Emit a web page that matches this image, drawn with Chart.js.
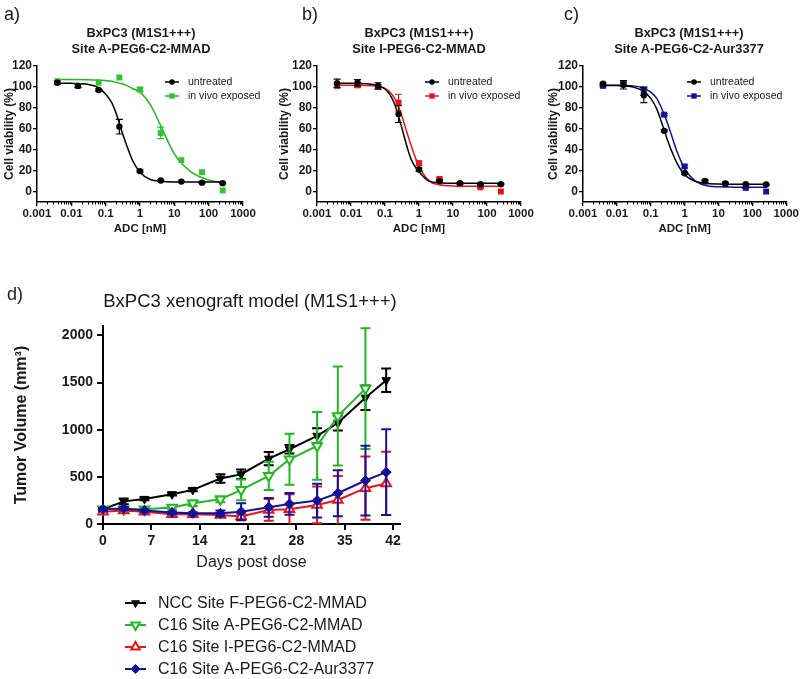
<!DOCTYPE html>
<html>
<head>
<meta charset="utf-8">
<script src="https://cdn.jsdelivr.net/npm/chart.js"></script>
<style>
  body { margin: 0; background: #fff; }
  #page { position: relative; width: 800px; height: 679px; overflow: hidden; font-family: 'Liberation Sans', Arial, sans-serif; color: #1a1a1a; }
  #page canvas { position: absolute; left: 0; top: 0; }
  .lbl { position: absolute; font-size: 18px; line-height: 18px; }
  .ttl { position: absolute; width: 220px; text-align: center; font-weight: bold; font-size: 12.8px; line-height: 16px; }
</style>
</head>
<body>
<div id="page">
  <canvas id="chartA" width="800" height="679"></canvas>
  <canvas id="chartB" width="800" height="679"></canvas>
  <canvas id="chartC" width="800" height="679"></canvas>
  <canvas id="chartD" width="800" height="679"></canvas>

  <div class="lbl" style="left:4px;top:5px">a)</div>
  <div class="lbl" style="left:302px;top:5px">b)</div>
  <div class="lbl" style="left:564px;top:5px">c)</div>
  <div class="lbl" style="left:7px;top:285px">d)</div>

  <div class="ttl" style="left:31px;top:25px">BxPC3 (M1S1+++)<br>Site A-PEG6-C2-MMAD</div>
  <div class="ttl" style="left:309px;top:25px">BxPC3 (M1S1+++)<br>Site I-PEG6-C2-MMAD</div>
  <div class="ttl" style="left:579px;top:25px">BxPC3 (M1S1+++)<br>Site A-PEG6-C2-Aur3377</div>
  <div style="position:absolute;left:60px;width:380px;top:290px;text-align:center;font-size:18.5px;line-height:22px">BxPC3 xenograft model (M1S1+++)</div>
</div>

<script>
// ---- in vitro panels (a-c) ----
const doseX = [0.0039, 0.0156, 0.0625, 0.25, 1, 4, 16, 64, 256];
const fitX = [0.004, 0.01, 0.03, 0.06, 0.1, 0.15, 0.2, 0.3, 0.4, 0.6, 1, 2, 4, 10, 30, 100, 260];
const doseTicks = [0.001, 0.01, 0.1, 1, 10, 100, 1000];
const doseTickLabels = ['0.001', '0.01', '0.1', '1', '10', '100', '1000'];
const viabilityTicks = [0, 20, 40, 60, 80, 100, 120];
const groupLabels = ['untreated', 'in vivo exposed'];

const aUntreated = [104, 101, 97, 62, 19.5, 10.5, 9.5, 8.5, 8];
const aUntreatedErr = [1.5, 1.5, 1, 7, 1, 0.5, 0.5, 0.5, 0.5];
const aExposed = [105.5, 101, 104, 109, 97.5, 56, 30, 18.5, 1];
const aExposedErr = [0, 2, 0, 0, 2, 5.5, 0, 0, 0];
const aUntreatedFit = [103.5, 103.4, 102.5, 99.5, 93, 85, 75, 57, 45, 30, 18.5, 11.5, 9.8, 9.1, 9, 9, 9];
const aExposedFit = [107, 107, 106.8, 106.5, 106, 105.5, 104.5, 103, 101.5, 98.5, 95, 83, 63, 36, 19, 11, 8.5];

const bUntreated = [103.5, 104, 101, 74, 21, 10, 8, 7, 7];
const bUntreatedErr = [4, 3, 3, 8, 1.5, 1, 0.5, 0.5, 0.5];
const bExposed = [101, 101.5, 100, 85, 27, 12, 7, 4, 0];
const bExposedErr = [2, 2, 2, 8, 2, 1, 0.5, 0.5, 0];
const bUntreatedFit = [103.5, 103.5, 103, 101.5, 98, 91, 82, 63, 48, 30, 19, 10, 8.5, 8, 8, 8, 8];
const bExposedFit = [101.5, 101.5, 101.3, 100.5, 98.5, 94, 88, 74, 61, 43, 24, 10, 6.5, 5.3, 5, 5, 5];

const cUntreated = [103, 102, 92, 58, 17.5, 10, 7.7, 7, 6.7];
const cUntreatedErr = [1, 4, 7, 1, 1, 1, 0.5, 0.5, 0.5];
const cExposed = [101, 102.5, 96, 73.5, 24, 9.6, 7.3, 3.5, 0];
const cExposedErr = [1, 2, 4, 1, 1.5, 1, 0.5, 0.5, 0];
const cUntreatedFit = [101.5, 101.3, 100, 96, 89, 79, 68, 51, 40, 27, 16, 10, 8, 7.2, 7, 7, 7];
const cExposedFit = [101.5, 101.5, 101, 99, 95, 89, 81, 67, 55, 38, 22, 10.5, 6, 4.5, 4.2, 4, 4];

// ---- xenograft panel (d) ----
const days = [0, 3, 6, 10, 13, 17, 20, 24, 27, 31, 34, 38, 41];
const dayTicks = [0, 7, 14, 21, 28, 35, 42];
const volumeTicks = [0, 500, 1000, 1500, 2000];
const seriesNames = ['NCC Site F-PEG6-C2-MMAD', 'C16 Site A-PEG6-C2-MMAD', 'C16 Site I-PEG6-C2-MMAD', 'C16 Site A-PEG6-C2-Aur3377'];
const nccVol = [156, 240, 266, 316, 362, 482, 528, 693, 793, 935, 1071, 1340, 1525];
const nccErr = [20, 30, 15, 15, 15, 45, 50, 70, 45, 80, 80, 130, 125];
const c16AVol = [156, 156, 156, 174, 220, 262, 362, 511, 686, 828, 1145, 1436];
const c16AErr = [20, 20, 15, 20, 30, 30, 110, 150, 270, 360, 525, 640];
const c16IVol = [131, 142, 131, 103, 103, 96, 80, 149, 156, 202, 255, 380, 430];
const c16IErr = [15, 15, 10, 10, 10, 20, 30, 115, 160, 195, 255, 335, 335];
const c16AurVol = [156, 165, 142, 121, 113, 113, 131, 177, 213, 248, 326, 461, 550];
const c16AurErr = [15, 15, 10, 10, 10, 30, 90, 100, 115, 180, 245, 370, 455];

const GREEN = '#22b822', GREEN_A = '#33c433', RED = '#e8141c', BLUE = '#12129c', BLACK = '#000';

Chart.defaults.font.family = "'Liberation Sans', Arial, sans-serif";
Chart.defaults.color = '#1a1a1a';

function pts(xs, ys) { return ys.map((y, i) => ({ x: xs[i], y: y })); }

function marker(ctx, style, x, y, r, color, fill, rot, bw) {
  ctx.save();
  ctx.strokeStyle = color;
  ctx.fillStyle = fill;
  ctx.lineWidth = bw;
  Chart.helpers.drawPoint(ctx, { pointStyle: style, rotation: rot || 0, radius: r, borderWidth: bw }, x, y);
  ctx.restore();
}

const errorBars = {
  id: 'errorBars',
  beforeDatasetDraw(chart, args) {
    const ds = chart.data.datasets[args.index];
    if (!ds.errors) return;
    const ctx = chart.ctx, ys = chart.scales.y, area = chart.chartArea;
    ctx.save();
    ctx.strokeStyle = ds.borderColor;
    ctx.lineWidth = ds.errWidth;
    ctx.beginPath();
    args.meta.data.forEach((p, i) => {
      const e = ds.errors[i];
      if (!e) return;
      const v = ds.data[i].y;
      const top = ys.getPixelForValue(v + e);
      const bot = ys.getPixelForValue(v - e);
      const c = ds.capHalf;
      ctx.moveTo(p.x, top);
      ctx.lineTo(p.x, Math.min(bot, area.bottom));
      ctx.moveTo(p.x - c, top);
      ctx.lineTo(p.x + c, top);
      if (bot < area.bottom) {
        ctx.moveTo(p.x - c, bot);
        ctx.lineTo(p.x + c, bot);
      }
    });
    ctx.stroke();
    ctx.restore();
  }
};

const minorTicks = {
  id: 'minorTicks',
  afterDraw(chart) {
    const sc = chart.scales.x;
    if (sc.type !== 'logarithmic') return;
    const ctx = chart.ctx;
    ctx.save();
    ctx.strokeStyle = '#000';
    ctx.lineWidth = 1;
    ctx.beginPath();
    for (let d = 0; d < doseTicks.length - 1; d++) {
      for (let k = 2; k < 10; k++) {
        const px = Math.round(sc.getPixelForValue(doseTicks[d] * k)) + 0.5;
        ctx.moveTo(px, sc.top);
        ctx.lineTo(px, sc.top + 2.5);
      }
    }
    ctx.stroke();
    ctx.restore();
  }
};

const lineLegend = {
  id: 'lineLegend',
  afterDraw(chart, args, o) {
    if (!o || !o.items) return;
    const ctx = chart.ctx;
    o.items.forEach((it, i) => {
      const y = o.rows[i];
      ctx.save();
      ctx.strokeStyle = it.color;
      ctx.lineWidth = o.lineWidth;
      ctx.beginPath();
      ctx.moveTo(o.x0, y);
      ctx.lineTo(o.x1, y);
      ctx.stroke();
      ctx.restore();
      marker(ctx, it.style, (o.x0 + o.x1) / 2, y, it.radius, it.color, it.fill, it.rotation, it.bw);
      ctx.save();
      ctx.fillStyle = '#1a1a1a';
      ctx.font = o.fontSize + "px 'Liberation Sans', Arial, sans-serif";
      ctx.textBaseline = 'middle';
      ctx.fillText(it.text, o.tx, y + 0.5);
      ctx.restore();
    });
  }
};

function doseChart(id, padLeft, yWidth, padRight, color, dotColor, untreated, untreatedErr, untreatedFit, exposed, exposedErr, exposedFit, leg) {
  const pointSet = (data, err, style, col, r) => ({
    data: pts(doseX, data), errors: err, errWidth: 1.2, capHalf: 3.5,
    showLine: false, borderColor: col, pointStyle: style, pointRadius: r,
    pointBackgroundColor: col, pointBorderColor: col, pointBorderWidth: 0, clip: false
  });
  const fitSet = (data, col) => ({
    data: pts(fitX, data), borderColor: col, borderWidth: 1.5, pointRadius: 0,
    cubicInterpolationMode: 'monotone', clip: false
  });
  return new Chart(document.getElementById(id), {
    type: 'line',
    data: {
      datasets: [
        pointSet(untreated, untreatedErr, 'circle', BLACK, 3.2),
        pointSet(exposed, exposedErr, 'rect', dotColor, 4.2),
        fitSet(untreatedFit, BLACK),
        fitSet(exposedFit, color)
      ]
    },
    options: {
      responsive: false, animation: false, devicePixelRatio: 1,
      layout: { padding: { left: padLeft, right: padRight, top: 66, bottom: 439 } },
      plugins: {
        legend: { display: false }, tooltip: { enabled: false },
        lineLegend: {
          x0: leg, x1: leg + 14, tx: leg + 23, rows: [82, 96], fontSize: 10.5, lineWidth: 1.5,
          items: [
            { text: groupLabels[0], color: BLACK, fill: BLACK, style: 'circle', radius: 2.8, bw: 0 },
            { text: groupLabels[1], color: color, fill: dotColor, style: 'rect', radius: 3.8, bw: 0 }
          ]
        }
      },
      scales: {
        x: {
          type: 'logarithmic', min: 0.001, max: 1000,
          afterBuildTicks: s => { s.ticks = doseTicks.map(v => ({ value: v })); },
          afterFit: s => { s.height = 38; },
          grid: { display: true, drawOnChartArea: false, drawTicks: true, tickLength: 4, color: '#000', lineWidth: 1.3 },
          border: { display: true, color: '#000', width: 1.5 },
          ticks: { font: { size: 11.5, weight: 'bold' }, padding: 1, maxRotation: 0, autoSkip: false,
                   callback: v => doseTickLabels[doseTicks.indexOf(v)] },
          title: { display: true, text: 'ADC [nM]', font: { size: 11.5, weight: 'bold' }, padding: { top: 0, bottom: 4 } }
        },
        y: {
          type: 'linear', min: -10, max: 120,
          afterBuildTicks: s => { s.ticks = viabilityTicks.map(v => ({ value: v })); },
          afterFit: s => { s.width = yWidth; },
          grid: { display: true, drawOnChartArea: false, drawTicks: true, tickLength: 4, color: '#000', lineWidth: 1.3 },
          border: { display: true, color: '#000', width: 1.5 },
          ticks: { font: { size: 12, weight: 'bold' }, padding: 1, callback: v => String(v) },
          title: { display: true, text: 'Cell viability (%)', font: { size: 12, weight: 'bold' }, padding: { top: 2, bottom: 0 } }
        }
      }
    },
    plugins: [errorBars, minorTicks, lineLegend]
  });
}

doseChart('chartA', 0, 37, 557, GREEN, GREEN_A, aUntreated, aUntreatedErr, aUntreatedFit, aExposed, aExposedErr, aExposedFit, 165);
doseChart('chartB', 275, 42, 279, RED, RED, bUntreated, bUntreatedErr, bUntreatedFit, bExposed, bExposedErr, bExposedFit, 425);
doseChart('chartC', 544, 39, 13, BLUE, BLUE, cUntreated, cUntreatedErr, cUntreatedFit, cExposed, cExposedErr, cExposedFit, 687);

// panel d
const dSpec = [
  { v: nccVol, e: nccErr, col: BLACK, style: 'triangle', rot: 180, fill: BLACK, r: 5, bw: 1 },
  { v: c16AVol, e: c16AErr, col: GREEN, style: 'triangle', rot: 180, fill: '#fff', r: 5.5, bw: 2 },
  { v: c16IVol, e: c16IErr, col: RED, style: 'triangle', rot: 0, fill: '#fff', r: 5.5, bw: 2 },
  { v: c16AurVol, e: c16AurErr, col: BLUE, style: 'rectRot', rot: 0, fill: BLUE, r: 5, bw: 1 }
];

new Chart(document.getElementById('chartD'), {
  type: 'line',
  data: {
    datasets: dSpec.map((s, i) => ({
      label: seriesNames[i],
      data: pts(days, s.v), errors: s.e, errWidth: 2, capHalf: 5,
      borderColor: s.col, borderWidth: 2, tension: 0,
      pointStyle: s.style, rotation: s.rot, pointRadius: s.r,
      pointBackgroundColor: s.fill, pointBorderColor: s.col, pointBorderWidth: s.bw,
      clip: false
    })).reverse()
  },
  options: {
    responsive: false, animation: false, devicePixelRatio: 1,
    layout: { padding: { left: 0, right: 400, top: 326, bottom: 103 } },
    plugins: {
      legend: { display: false }, tooltip: { enabled: false },
      lineLegend: {
        x0: 125, x1: 146, tx: 158, rows: [603, 625, 647, 669], fontSize: 16, lineWidth: 2,
        items: dSpec.map((s, i) => ({ text: seriesNames[i], color: s.col, fill: s.fill, style: s.style,
                                      rotation: s.rot, radius: s.r - 0.5, bw: s.bw }))
      }
    },
    scales: {
      x: {
        type: 'linear', min: 0, max: 43,
        afterBuildTicks: s => { s.ticks = dayTicks.map(v => ({ value: v })); },
        afterFit: s => { s.height = 52; },
        grid: { display: true, drawOnChartArea: false, drawTicks: true, tickLength: 6, color: '#000', lineWidth: 2 },
        border: { display: true, color: '#000', width: 2 },
        ticks: { font: { size: 14, weight: 'bold' }, padding: 3, maxRotation: 0, autoSkip: false, callback: v => String(v) },
        title: { display: true, text: 'Days post dose', font: { size: 16 }, padding: { top: 0, bottom: 4 } }
      },
      y: {
        type: 'linear', min: 0, max: 2100,
        afterBuildTicks: s => { s.ticks = volumeTicks.map(v => ({ value: v })); },
        afterFit: s => { s.width = 103; },
        grid: { display: true, drawOnChartArea: false, drawTicks: true, tickLength: 6, color: '#000', lineWidth: 2 },
        border: { display: true, color: '#000', width: 2 },
        ticks: { font: { size: 14, weight: 'bold' }, padding: 4, callback: v => String(v) },
        title: { display: true, text: 'Tumor Volume (mm³)', font: { size: 16, weight: 'bold' }, padding: { top: 12, bottom: 0 } }
      }
    }
  },
  plugins: [errorBars, lineLegend]
});
</script>
</body>
</html>
